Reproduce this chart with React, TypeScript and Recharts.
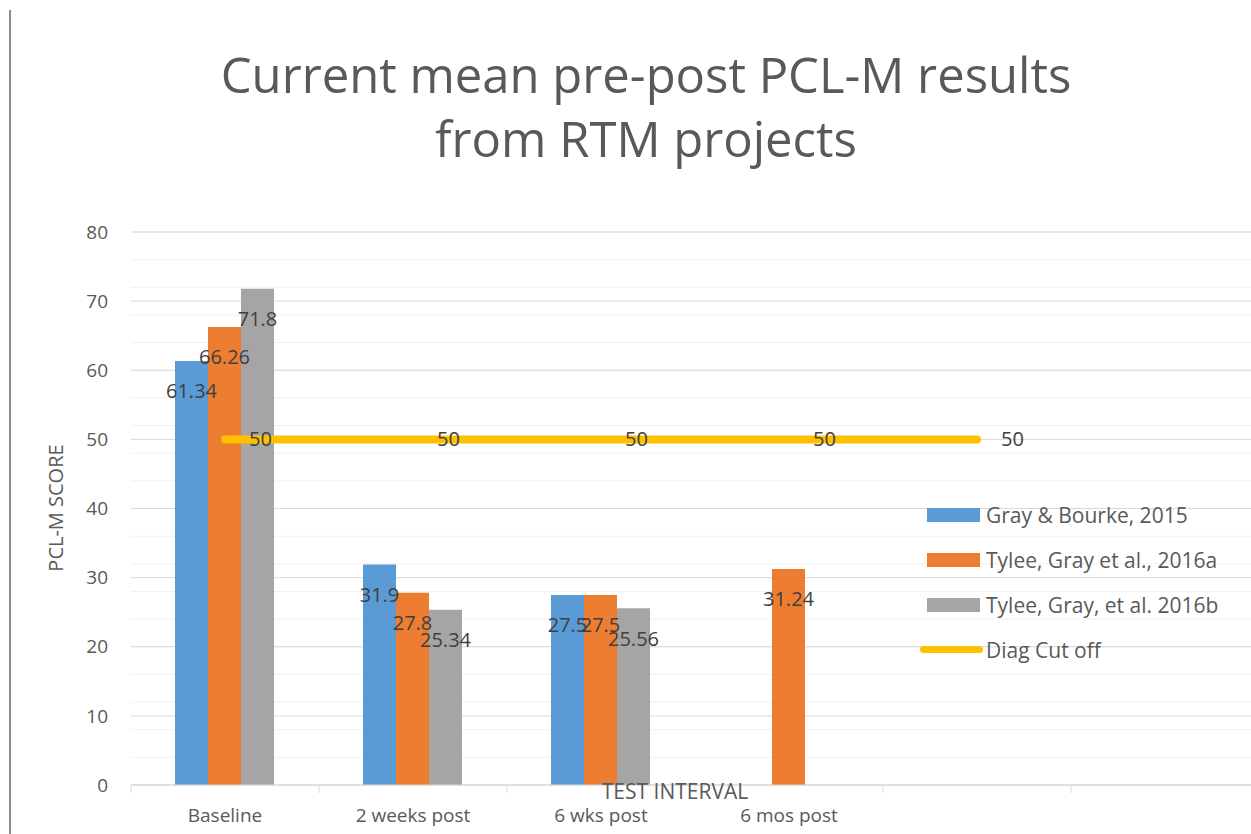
import { Bar, CartesianGrid, ComposedChart, LabelList, Legend, Line, XAxis, YAxis } from "recharts";

const categories = ["Baseline", "2 weeks post", "6 wks post", "6 mos post", "", " "];
const grayBourke2015 = [61.34, 31.9, 27.5, null, null, null];
const tyleeGray2016a = [66.26, 27.8, 27.5, 31.24, null, null];
const tyleeGray2016b = [71.8, 25.34, 25.56, null, null, null];
const diagCutOff = [50, 50, 50, 50, 50, null];
const yTicks = [0, 10, 20, 30, 40, 50, 60, 70, 80];
const minorTicks = Array.from({ length: 41 }, (_, i) => i * 2);

const data = categories.map((category, i) => ({
  category,
  gb: grayBourke2015[i],
  ta: tyleeGray2016a[i],
  tb: tyleeGray2016b[i],
  diag: diagCutOff[i],
}));

const FONT = "'Open Sans', sans-serif";
const TEXT = "#595959";
const LABEL = "#404040";

function CategoryTick(props: any) {
  const { x, y, payload } = props;
  const half = payload?.offset ?? 0;
  return (
    <g>
      <line x1={x - half} x2={x - half} y1={y} y2={y + 8} stroke="#d9d9d9" />
      <text x={x} y={y + 37} textAnchor="middle" fill={TEXT} fontSize={19} fontFamily={FONT}>
        {payload.value}
      </text>
    </g>
  );
}

function LegendContent({ payload }: any) {
  // bars first, cut-off line last, like the source
  const items = [...(payload || [])].sort(
    (a: any, b: any) => (a.type === "line" ? 1 : 0) - (b.type === "line" ? 1 : 0)
  );
  return (
    <div style={{ display: "flex", flexDirection: "column", fontFamily: FONT }}>
      {items.map((item: any) => (
        <div key={item.value} style={{ height: 45, display: "flex", alignItems: "center" }}>
          {item.type === "line" ? (
            <span style={{ width: 63, height: 7, borderRadius: 4, background: item.color, display: "inline-block" }} />
          ) : (
            <span
              style={{ width: 53, height: 14, marginLeft: 7, marginRight: 3, background: item.color, display: "inline-block" }}
            />
          )}
          <span style={{ marginLeft: 3, fontSize: 21, color: TEXT, whiteSpace: "nowrap" }}>{item.value}</span>
        </div>
      ))}
    </div>
  );
}

export default function App() {
  return (
    <div
      style={{
        position: "absolute",
        left: 0,
        top: 0,
        width: 1251,
        height: 834,
        overflow: "hidden",
        background: "#fff",
        fontFamily: FONT,
      }}
    >
      <div style={{ position: "absolute", left: 9, top: 10, bottom: 0, borderLeft: "2px solid #8c8c8c" }} />
      <div
        style={{
          position: "absolute",
          left: 0,
          width: 1292,
          top: 42,
          textAlign: "center",
          fontSize: 49,
          lineHeight: "64px",
          color: TEXT,
        }}
      >
        Current mean pre-post PCL-M results
        <br />
        from RTM projects
      </div>
      <div
        style={{
          position: "absolute",
          left: 55,
          top: 508,
          transform: "translate(-50%, -50%) rotate(-90deg)",
          fontSize: 20,
          color: TEXT,
          whiteSpace: "nowrap",
        }}
      >
        PCL-M SCORE
      </div>
      <ComposedChart
        width={1260}
        height={834}
        data={data}
        margin={{ top: 232, right: 1, bottom: 0, left: 0 }}
        barCategoryGap={44}
        barGap={0}
      >
        <CartesianGrid vertical={false} horizontalValues={minorTicks} stroke="#f0f0f0" />
        <CartesianGrid vertical={false} stroke="#d9d9d9" />
        <XAxis
          dataKey="category"
          height={49}
          interval={0}
          tickLine={false}
          tickSize={0}
          tickMargin={0}
          axisLine={{ stroke: "#d9d9d9" }}
          tick={<CategoryTick />}
        />
        <YAxis
          domain={[0, 80]}
          ticks={yTicks}
          width={131}
          axisLine={false}
          tickLine={false}
          tickSize={0}
          tickMargin={23}
          tick={{ fill: TEXT, fontSize: 19, fontFamily: FONT }}
        />
        <Legend
          layout="vertical"
          verticalAlign="middle"
          align="center"
          content={<LegendContent />}
          wrapperStyle={{ left: 920, top: 492, width: 331 }}
        />
        <Bar dataKey="gb" name="Gray & Bourke, 2015" fill="#5B9BD5" isAnimationActive={false}>
          <LabelList dataKey="gb" position="insideTop" offset={23} fill={LABEL} fontSize={20} fontFamily={FONT} />
        </Bar>
        <Bar dataKey="ta" name="Tylee, Gray et al., 2016a" fill="#ED7D31" isAnimationActive={false}>
          <LabelList dataKey="ta" position="insideTop" offset={23} fill={LABEL} fontSize={20} fontFamily={FONT} />
        </Bar>
        <Bar dataKey="tb" name="Tylee, Gray, et al. 2016b" fill="#A5A5A5" isAnimationActive={false}>
          <LabelList dataKey="tb" position="insideTop" offset={23} fill={LABEL} fontSize={20} fontFamily={FONT} />
        </Bar>
        <Line
          dataKey="diag"
          name="Diag Cut off"
          stroke="#FFC000"
          strokeWidth={8}
          strokeLinecap="round"
          dot={false}
          activeDot={false}
          isAnimationActive={false}
        >
          <LabelList dataKey="diag" position="right" offset={24} fill={LABEL} fontSize={20} fontFamily={FONT} />
        </Line>
      </ComposedChart>
      <div
        style={{
          position: "absolute",
          left: 675,
          top: 791,
          transform: "translate(-50%, -50%)",
          fontSize: 21,
          color: TEXT,
          whiteSpace: "nowrap",
        }}
      >
        TEST INTERVAL
      </div>
    </div>
  );
}
